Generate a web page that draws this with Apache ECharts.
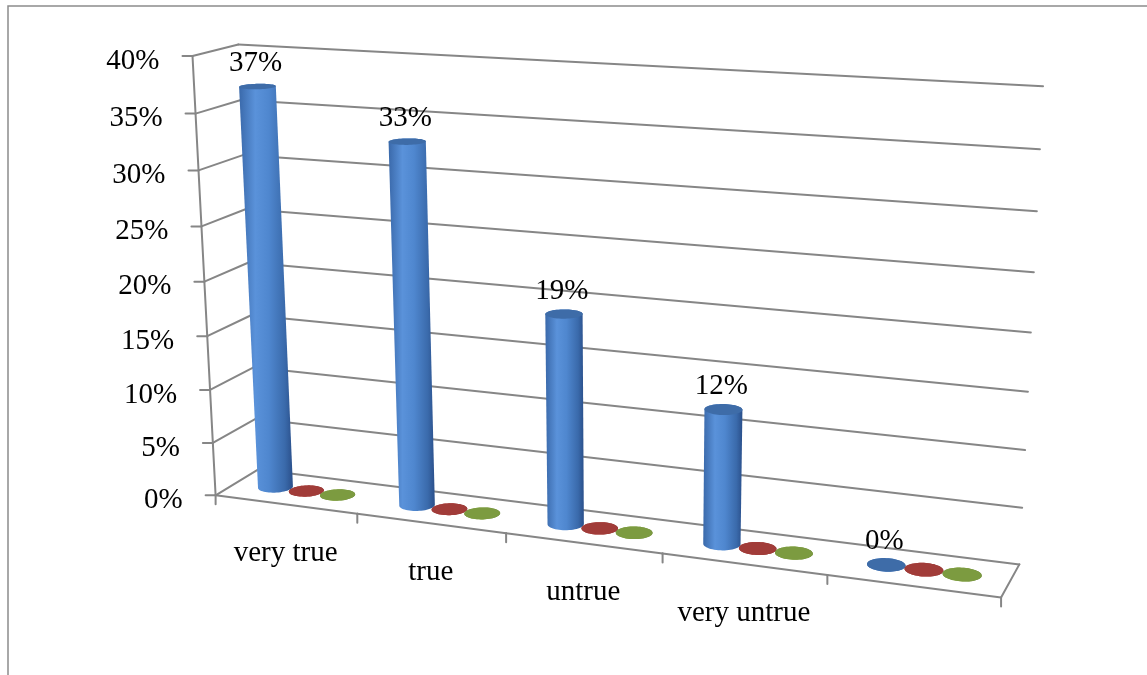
<!DOCTYPE html>
<html>
<head>
<meta charset="utf-8">
<script src="https://cdn.jsdelivr.net/npm/echarts@6/dist/echarts.min.js"></script>
<style>
  html, body { margin: 0; padding: 0; background: #ffffff; }
  #chart { width: 1147px; height: 675px; overflow: hidden; }
</style>
</head>
<body>
<div id="chart"></div>
<script>
// ---- data ----
const categories = ['very true', 'true', 'untrue', 'very untrue', ''];
const seriesBlue = [0.37, 0.33, 0.19, 0.12, 0];
const seriesRed = [0, 0, 0, 0, 0];
const seriesGreen = [0, 0, 0, 0, 0];
const valueTicks = [0, 0.05, 0.1, 0.15, 0.2, 0.25, 0.3, 0.35, 0.4];
const valueTickLabels = ['0%', '5%', '10%', '15%', '20%', '25%', '30%', '35%', '40%'];

// ---- perspective view of the plot box ----
// Unit box: u runs along the categories, v up the value axis, w from the front (0) to the back wall (1).
const BOX_ANCHORS = [
  [[0, 0, 0], [215, 495]],
  [[0, 0.5, 0], [204, 281]],
  [[0, 1, 0], [193, 57]],
  [[0, 1, 1], [238, 44]],
  [[0, 0, 1], [259, 470]],
  [[1, 1, 1], [1043, 86]],
  [[1, 0.875, 1], [1040, 149]],
  [[1, 0.375, 1], [1028, 392]],
  [[1, 0.25, 1], [1025, 450]],
  [[1, 0.125, 1], [1022, 508]],
  [[1, 0, 1], [1019, 564]],
  [[1, 0, 0], [1001, 598]],
  [[0.2, 0, 0], [357, 514]],
  [[0.4, 0, 0], [507, 533]],
  [[0.6, 0, 0], [662, 553]],
  [[0.8, 0, 0], [828, 575]]
];

// Least-squares fit of a 3x4 projective camera to the anchors.
function fitProjection(anchors) {
  const S = 500, CX = 600, CY = 300;
  const rows = [], rhs = [];
  anchors.forEach(([[X, Y, Z], [px, py]]) => {
    const x = (px - CX) / S, y = (py - CY) / S;
    rows.push([X, Y, Z, 1, 0, 0, 0, 0, -x * X, -x * Y, -x * Z]); rhs.push(x);
    rows.push([0, 0, 0, 0, X, Y, Z, 1, -y * X, -y * Y, -y * Z]); rhs.push(y);
  });
  const n = 11;
  const M = Array.from({ length: n }, () => new Array(n + 1).fill(0));
  rows.forEach((r, k) => {
    for (let i = 0; i < n; i++) {
      for (let j = 0; j < n; j++) M[i][j] += r[i] * r[j];
      M[i][n] += r[i] * rhs[k];
    }
  });
  for (let c = 0; c < n; c++) {
    let piv = c;
    for (let r = c + 1; r < n; r++) if (Math.abs(M[r][c]) > Math.abs(M[piv][c])) piv = r;
    const tmp = M[c]; M[c] = M[piv]; M[piv] = tmp;
    for (let r = 0; r < n; r++) {
      if (r === c) continue;
      const f = M[r][c] / M[c][c];
      for (let j = c; j <= n; j++) M[r][j] -= f * M[c][j];
    }
  }
  const p = M.map((row, i) => row[n] / row[i]);
  return function (u, v, w) {
    const d = p[8] * u + p[9] * v + p[10] * w + 1;
    return [
      (p[0] * u + p[1] * v + p[2] * w + p[3]) / d * S + CX,
      (p[4] * u + p[5] * v + p[6] * w + p[7]) / d * S + CY
    ];
  };
}
const project = fitProjection(BOX_ANCHORS);

// ---- styles ----
const FONT = '29px "Liberation Serif", "Times New Roman", serif';
const TEXT_COLOR = '#000000';
const LINE_COLOR = '#868686';
const LINE_WIDTH = 2;
const GAP_WIDTH = 1.5;        // gap between category groups, in column widths
const DEPTH_CENTER = 0.5;     // columns stand in the middle of the floor depth
const DEPTH_RADIUS = 0.2;     // column radius along the depth direction
const RING_STEPS = 56;

const SERIES_STYLES = [
  {
    cap: '#3e6ca8',
    body: [
      { offset: 0, color: '#3a69aa' },
      { offset: 0.3, color: '#5a92da' },
      { offset: 0.55, color: '#4f87cf' },
      { offset: 0.85, color: '#3a6aab' },
      { offset: 1, color: '#2a4f8a' }
    ],
    labels: true
  },
  {
    cap: '#a13c39',
    body: [
      { offset: 0, color: '#8e3331' },
      { offset: 0.35, color: '#c0504d' },
      { offset: 1, color: '#7a2a28' }
    ],
    labels: false
  },
  {
    cap: '#7c9b40',
    body: [
      { offset: 0, color: '#6a8535' },
      { offset: 0.35, color: '#9bbb59' },
      { offset: 1, color: '#5a722c' }
    ],
    labels: false
  }
];

// ---- helpers ----
function toU(px, cs) { return (px - cs.x) / cs.width; }
function toV(py, cs) { return (cs.y + cs.height - py) / cs.height; }

function line(a, b) {
  return {
    type: 'line',
    shape: { x1: a[0], y1: a[1], x2: b[0], y2: b[1] },
    style: { stroke: LINE_COLOR, lineWidth: LINE_WIDTH, lineCap: 'round' }
  };
}

function label(text, x, y, align) {
  return {
    type: 'text',
    x: x, y: y,
    style: { text: text, font: FONT, fill: TEXT_COLOR, align: align, verticalAlign: 'middle' }
  };
}

function ring(uc, v, wc, ru, rw) {
  const pts = [];
  for (let j = 0; j < RING_STEPS; j++) {
    const t = 2 * Math.PI * j / RING_STEPS;
    pts.push(project(uc + ru * Math.cos(t), v, wc + rw * Math.sin(t)));
  }
  return pts;
}

function convexHull(points) {
  const pts = points.slice().sort((a, b) => a[0] - b[0] || a[1] - b[1]);
  const cross = (o, a, b) => (a[0] - o[0]) * (b[1] - o[1]) - (a[1] - o[1]) * (b[0] - o[0]);
  const lower = [], upper = [];
  for (const p of pts) {
    while (lower.length >= 2 && cross(lower[lower.length - 2], lower[lower.length - 1], p) <= 0) lower.pop();
    lower.push(p);
  }
  for (let i = pts.length - 1; i >= 0; i--) {
    const p = pts[i];
    while (upper.length >= 2 && cross(upper[upper.length - 2], upper[upper.length - 1], p) <= 0) upper.pop();
    upper.push(p);
  }
  upper.pop(); lower.pop();
  return lower.concat(upper);
}

// ---- value axis: wall gridlines, ticks and labels ----
function renderValueAxis(params, api) {
  const cs = params.coordSys;
  const v = toV(api.coord([0, api.value(1)])[1], cs);
  const front = project(0, v, 0);
  const corner = project(0, v, 1);
  const right = project(1, v, 1);
  const children = [
    line(front, corner),
    line(corner, right),
    line(front, [front[0] - 10, front[1]]),
    label(valueTickLabels[params.dataIndex], front[0] - 33, front[1] + 5, 'right')
  ];
  if (params.dataIndex === 0) {
    children.push(line(project(0, 0, 0), project(0, 1, 0)));
  }
  return { type: 'group', children: children };
}

// ---- category axis: front edge, floor edge, ticks and labels ----
function renderCategoryAxis(params, api) {
  const cs = params.coordSys;
  const i = api.value(0);
  const center = api.coord([i, 0]);
  const band = api.size([1, 0])[0];
  const u0 = toU(center[0] - band / 2, cs);
  const u1 = toU(center[0] + band / 2, cs);
  const uc = toU(center[0], cs);
  const a = project(u0, 0, 0);
  const b = project(u1, 0, 0);
  const children = [line(a, b), line(a, [a[0], a[1] + 9])];
  if (params.dataIndex === categories.length - 1) {
    children.push(line(b, [b[0], b[1] + 9]));
    children.push(line(b, project(u1, 0, 1)));
  }
  const c = project(uc, 0, 0);
  if (categories[i]) children.push(label(categories[i], c[0], c[1] + 49, 'center'));
  return { type: 'group', children: children };
}

// ---- cylinders ----
function makeCylinderRenderer(k) {
  const st = SERIES_STYLES[k];
  const count = SERIES_STYLES.length;
  return function (params, api) {
    const cs = params.coordSys;
    const ci = api.value(0);
    const val = api.value(1);
    const base = api.coord([ci, 0]);
    const top = api.coord([ci, val]);
    const band = api.size([1, 0])[0];
    const slot = band / (count + GAP_WIDTH);
    const xc = base[0] - band / 2 + slot * (GAP_WIDTH / 2 + k + 0.5);
    const uc = toU(xc, cs);
    const ru = slot / 2 / cs.width;
    const v0 = toV(base[1], cs);
    const v1 = toV(top[1], cs);
    const bottomRing = ring(uc, v0, DEPTH_CENTER, ru, DEPTH_RADIUS);
    const topRing = ring(uc, v1, DEPTH_CENTER, ru, DEPTH_RADIUS);
    const hull = convexHull(bottomRing.concat(topRing));
    let minX = Infinity, maxX = -Infinity;
    hull.forEach(p => { minX = Math.min(minX, p[0]); maxX = Math.max(maxX, p[0]); });
    const children = [
      {
        type: 'polygon',
        shape: { points: hull },
        style: { fill: new echarts.graphic.LinearGradient(minX, 0, maxX, 0, st.body, true) }
      },
      {
        type: 'polygon',
        shape: { points: topRing },
        style: { fill: st.cap }
      }
    ];
    if (st.labels) {
      const capCenter = project(uc, v1, DEPTH_CENTER);
      children.push(label(Math.round(val * 100) + '%', capCenter[0] - 2, capCenter[1] - 23, 'center'));
    }
    return { type: 'group', children: children };
  };
}

const chart = echarts.init(document.getElementById('chart'), null, { renderer: 'canvas' });
chart.setOption({
  animation: false,
  backgroundColor: '#ffffff',
  grid: { left: 0, right: 0, top: 0, bottom: 0 },
  xAxis: { type: 'category', data: categories, boundaryGap: true, show: false },
  yAxis: { type: 'value', min: 0, max: 0.4, interval: 0.05, show: false },
  graphic: [
    {
      type: 'rect',
      shape: { x: 8, y: 6, width: 1400, height: 1000 },
      style: { fill: 'none', stroke: '#8c8c8c', lineWidth: 1.5 },
      silent: true
    }
  ],
  series: [
    {
      type: 'custom', name: 'value axis', silent: true, clip: false,
      data: valueTicks.map(v => [0, v]),
      renderItem: renderValueAxis
    },
    {
      type: 'custom', name: 'category axis', silent: true, clip: false,
      data: categories.map((c, i) => [i, 0]),
      renderItem: renderCategoryAxis
    },
    {
      type: 'custom', name: 'Series 1', silent: true, clip: false,
      data: seriesBlue.map((v, i) => [i, v]),
      renderItem: makeCylinderRenderer(0)
    },
    {
      type: 'custom', name: 'Series 2', silent: true, clip: false,
      data: seriesRed.map((v, i) => [i, v]),
      renderItem: makeCylinderRenderer(1)
    },
    {
      type: 'custom', name: 'Series 3', silent: true, clip: false,
      data: seriesGreen.map((v, i) => [i, v]),
      renderItem: makeCylinderRenderer(2)
    }
  ]
});
</script>
</body>
</html>
